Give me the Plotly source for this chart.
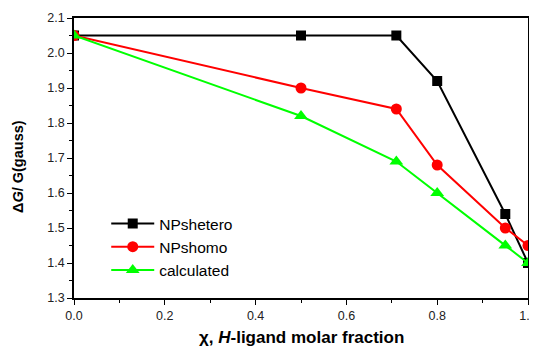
import plotly.graph_objects as go

x_vals = [0.0, 0.5, 0.71, 0.8, 0.95, 1.0]
hetero = [2.05, 2.05, 2.05, 1.92, 1.54, 1.40]
homo = [2.05, 1.90, 1.84, 1.68, 1.50, 1.45]
calculated = [2.05, 1.82, 1.69, 1.60, 1.45, 1.40]

x_title = "<b>χ, <i>H</i>-ligand molar fraction</b>"
y_title = "<b>Δ<i>G</i>/ G(gauss)</b>"

FONT = "Liberation Sans"

fig = go.Figure()
fig.add_trace(go.Scatter(x=x_vals, y=hetero, name="NPshetero", mode="lines+markers",
                         line=dict(color="black", width=2),
                         marker=dict(symbol="square", size=10, color="black")))
fig.add_trace(go.Scatter(x=x_vals, y=homo, name="NPshomo", mode="lines+markers",
                         line=dict(color="#ff0000", width=2),
                         marker=dict(symbol="circle", size=11, color="#ff0000")))
fig.add_trace(go.Scatter(x=x_vals, y=calculated, name="calculated", mode="lines+markers",
                         line=dict(color="#00ff00", width=2),
                         marker=dict(symbol="triangle-up", size=12, color="#00ff00")))

axis_common = dict(showgrid=False, zeroline=False, showline=True, linecolor="black",
                   linewidth=1.5, mirror=True, ticks="outside", ticklen=5, automargin=False,
                   tickcolor="black", tickfont=dict(family=FONT, size=12.5, color="#222"))

fig.update_xaxes(range=[0, 1.0], dtick=0.2, tickformat=".1f",
                 minor=dict(dtick=0.1, ticks="outside", ticklen=3, tickcolor="black"),
                 **axis_common)
fig.update_yaxes(range=[1.3, 2.1], dtick=0.1, tickformat=".1f",
                 minor=dict(dtick=0.05, ticks="outside", ticklen=3, tickcolor="black"),
                 **axis_common)

fig.add_annotation(text=x_title, xref="paper", yref="paper", x=0.5, y=0,
                   xanchor="center", yanchor="middle", yshift=-39, showarrow=False,
                   font=dict(family=FONT, size=17, color="black"))
fig.add_annotation(text=y_title, xref="paper", yref="paper", x=0, y=0.5,
                   xanchor="center", yanchor="middle", xshift=-56, yshift=-9,
                   textangle=-90, showarrow=False,
                   font=dict(family=FONT, size=14.5, color="black"))

# page body has a default 8px margin, so the figure is sized to fit inside the window
fig.update_layout(
    width=529, height=341,
    margin=dict(l=66, r=9, t=10, b=51),
    plot_bgcolor="white", paper_bgcolor="white",
    legend=dict(x=0.071, y=0.325, xanchor="left", yanchor="top",
                bgcolor="rgba(0,0,0,0)", tracegroupgap=0, itemwidth=43,
                font=dict(family=FONT, size=15.5, color="black")),
)

fig.write_html("out.html")
